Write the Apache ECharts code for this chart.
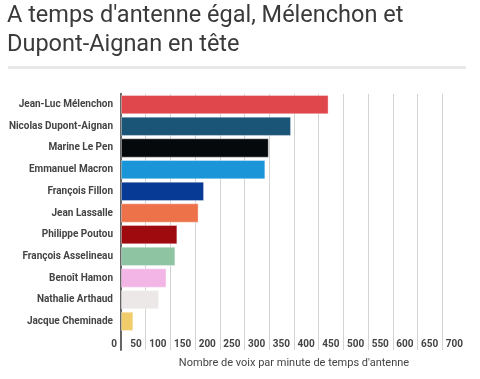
<!DOCTYPE html>
<html>
<head>
<meta charset="utf-8">
<script src="https://cdn.jsdelivr.net/npm/echarts@6/dist/echarts.min.js"></script>
<style>
html,body{margin:0;padding:0;background:#fff;}
#c{width:480px;height:379px;}
</style>
</head>
<body>
<div id="c"></div>
<script>
const titleText = "A temps d'antenne égal, Mélenchon et\nDupont-Aignan en tête";
const axisTitle = "Nombre de voix par minute de temps d'antenne";
const candidates = ["Jean-Luc Mélenchon","Nicolas Dupont-Aignan","Marine Le Pen","Emmanuel Macron","François Fillon","Jean Lassalle","Philippe Poutou","François Asselineau","Benoît Hamon","Nathalie Arthaud","Jacque Cheminade"];
const values = [420, 344, 299, 292, 168, 157, 114, 110, 92, 77, 25];
const colors = ["#e0474c","#1a5577","#05090c","#1a96d8","#063a94","#ed7149","#9e0a0e","#8ec4a2","#f3b5e5","#ede8e8","#f1cc6b"];
const xMin = 0, xMax = 700, xStep = 50;

const chart = echarts.init(document.getElementById('c'), null, {renderer:'canvas'});
const FONT = 'Roboto, "Noto Sans", sans-serif';
chart.setOption({
  animation:false,
  backgroundColor:'#fff',
  title:{
    text:titleText, left:7, top:1, padding:0,
    textStyle:{fontFamily:FONT, fontSize:23.5, fontWeight:'normal', color:'#3a3a3a', lineHeight:29.5}
  },
  graphic:[{type:'rect', shape:{x:8, y:66, width:458, height:3}, style:{fill:'#e8e8e8'}}],
  grid:[
    {left:121, right:13, top:93.8, height:238.4, containLabel:false},
    {left:121, right:13, top:332.2, height:17.8, containLabel:false}
  ],
  xAxis:[
    {type:'value', gridIndex:0, min:xMin, max:xMax, interval:xStep,
     axisLine:{show:false}, axisTick:{show:false}, axisLabel:{show:false},
     splitLine:{show:true, showMaxLine:false, lineStyle:{color:'#d3d3d3', width:1}}},
    {type:'value', gridIndex:1, min:xMin, max:xMax, interval:xStep, position:'bottom',
     axisLine:{show:false}, axisTick:{show:false},
     axisLabel:{show:true, inside:true, margin:1, align:'right', padding:[0,4,0,0],
       fontFamily:FONT, fontSize:10, fontWeight:'bold', color:'#444'},
     splitLine:{show:true, showMaxLine:false, lineStyle:{color:'#d3d3d3', width:1}},
     name:axisTitle, nameLocation:'middle', nameGap:8,
     nameTextStyle:{fontFamily:FONT, fontSize:11, color:'#444'}}
  ],
  yAxis:[
    {type:'category', gridIndex:0, data:candidates, inverse:true,
     axisLine:{show:true, lineStyle:{color:'#666', width:2}}, axisTick:{show:false},
     axisLabel:{margin:8, fontFamily:FONT, fontSize:10, fontWeight:'bold', color:'#444'},
     splitLine:{show:false}},
    {type:'value', gridIndex:1, min:0, max:1,
     axisLine:{show:true, lineStyle:{color:'#666', width:2}}, axisTick:{show:false},
     axisLabel:{show:false}, splitLine:{show:false}}
  ],
  series:[{
    type:'bar', xAxisIndex:0, yAxisIndex:0,
    barCategoryGap:'11%',
    data: values.map((v,i)=>({value:v, itemStyle:{color:colors[i]}})),
    itemStyle:{borderColor:'rgba(255,255,255,0.35)', borderWidth:1}
  }]
});
</script>
</body>
</html>
